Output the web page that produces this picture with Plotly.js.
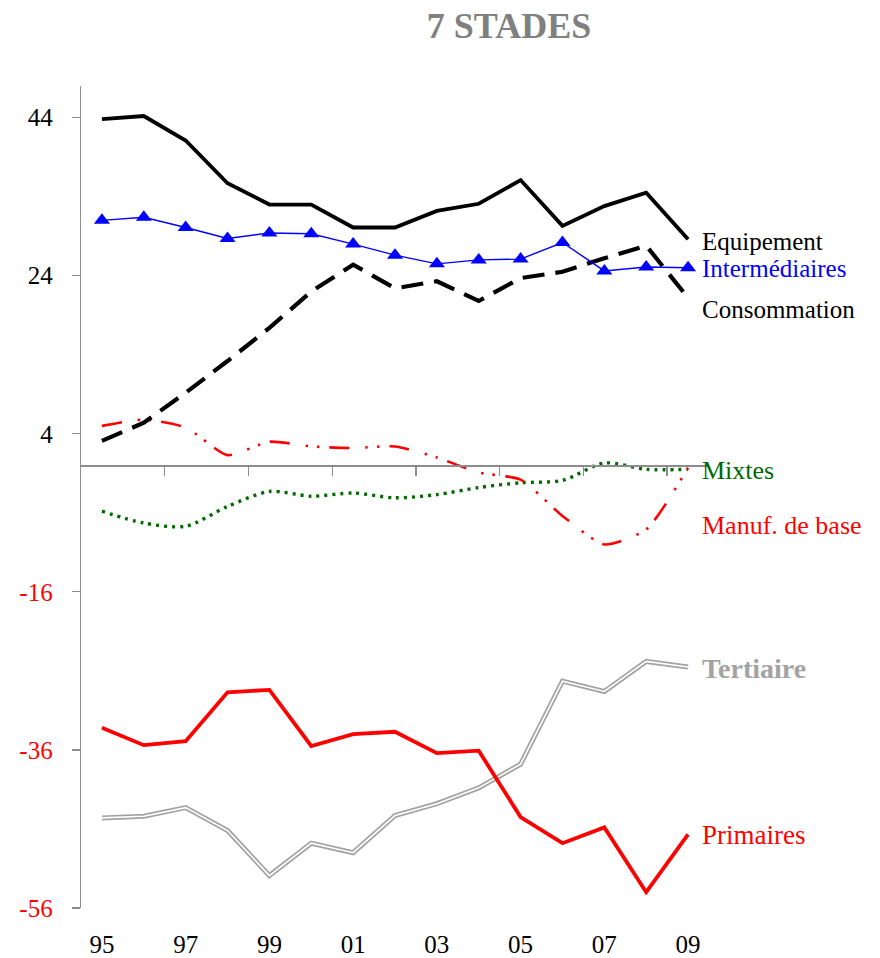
<!DOCTYPE html>
<html>
<head>
<meta charset="utf-8">
<script src="https://cdn.plot.ly/plotly-3.0.1.min.js"></script>
<style>html,body{margin:0;padding:0;background:#fff;}#chart{width:880px;height:958px;}</style>
</head>
<body>
<div id="chart"></div>
<script>
// ---- data ----
const years = [1995,1996,1997,1998,1999,2000,2001,2002,2003,2004,2005,2006,2007,2008,2009];
const yearLabelVals = [1995,1997,1999,2001,2003,2005,2007,2009];
const yearLabels = ['95','97','99','01','03','05','07','09'];
const minorTickVals = [1996.5,1998.5,2000.5,2002.5,2004.5,2006.5,2008.5];
const yTickVals = [44,24,4,-16,-36,-56];
const yTickText = ['44','24','4','-16','-36','-56'];

const equipement    = [43.8,44.2,41.1,35.7,33.0,33.0,30.1,30.1,32.2,33.1,36.1,30.3,32.8,34.5,28.6];
const intermediaires= [31.0,31.4,30.1,28.7,29.4,29.3,28.0,26.6,25.5,26.0,26.1,28.2,24.6,25.1,25.0];
const consommation  = [3.1,5.4,9.2,13.2,17.4,22.0,25.4,22.4,23.3,20.8,23.7,24.5,26.2,27.8,21.2];
const manufBase     = [5.0,5.8,4.8,1.3,3.0,2.4,2.2,2.4,1.0,-0.9,-1.8,-6.4,-10.0,-8.1,-0.3];
const mixtes        = [-5.8,-7.3,-7.7,-5.2,-3.3,-3.9,-3.5,-4.1,-3.7,-2.8,-2.2,-1.9,0.3,-0.5,-0.5];
const tertiaire     = [-44.6,-44.4,-43.3,-46.2,-51.9,-47.8,-49.0,-44.3,-42.8,-40.8,-37.8,-27.3,-28.6,-24.8,-25.5];
const primaires     = [-33.2,-35.4,-34.9,-28.7,-28.4,-35.5,-34.0,-33.7,-36.4,-36.1,-44.5,-47.8,-45.8,-54.0,-46.7];

// ---- styles ----
const SERIF = 'Liberation Serif, Times New Roman, serif';
const RED = '#ff0000', BLUE = '#0000ff', GREEN = '#006a00', GRAY = '#a3a3a3';
const yMin = -56, yMax = 48;

const traces = [
  {x: years, y: tertiaire, mode:'lines', line:{color:GRAY, width:5}, hoverinfo:'skip'},
  {x: years, y: tertiaire, mode:'lines', line:{color:'#ffffff', width:1.6}, hoverinfo:'skip'},
  {x: years, y: primaires, mode:'lines', line:{color:RED, width:3.8}},
  {x: years, y: mixtes, mode:'lines', line:{color:GREEN, width:3.4, dash:'3px,5px', shape:'spline', smoothing:0.8}},
  {x: years, y: manufBase, mode:'lines', line:{color:RED, width:2.6, dash:'20px,16px,2.5px,9px,2.5px,10px', shape:'spline', smoothing:0.6}},
  {x: years, y: consommation, mode:'lines', line:{color:'#000000', width:4.2, dash:'22px,11px'}},
  {x: years, y: intermediaires, mode:'lines+markers', line:{color:BLUE, width:1.4}, marker:{symbol:'triangle-up', size:14, color:BLUE}},
  {x: years, y: equipement, mode:'lines', line:{color:'#000000', width:3.8}}
];

const last = years.length - 1;
function lab(text, yv, color, size, yshift, bold) {
  return {x: years[last], y: yv[last], xref:'x', yref:'y', text: bold ? '<b>'+text+'</b>' : text,
    showarrow:false, xanchor:'left', yanchor:'middle', xshift:12, yshift:yshift,
    font:{family:SERIF, size:size, color:color}};
}

const layout = {
  width: 880, height: 958,
  margin: {l:81, r:171, t:86, b:50},
  paper_bgcolor:'#ffffff', plot_bgcolor:'#ffffff',
  showlegend:false,
  title: {text:'<b>7 STADES</b>', font:{family:SERIF, size:36, color:'#808080'},
          x: 509/880, xanchor:'center', xref:'container', y: 1 - 25/958, yanchor:'middle', yref:'container'},
  xaxis: {range:[1994.5, 2009.5], tickvals: yearLabelVals, ticktext: yearLabels,
          showline:false, showgrid:false, zeroline:false, ticks:'',
          tickfont:{family:SERIF, size:25, color:'#000'}, ticklabelstandoff:19},
  xaxis2: {overlaying:'x', anchor:'free', position:(0 - yMin)/(yMax - yMin), side:'bottom',
           range:[1994.5, 2009.5], tickvals: minorTickVals, showticklabels:false,
           ticks:'outside', ticklen:9, tickcolor:'#8c8c8c', tickwidth:1.3,
           showline:true, linecolor:'#8c8c8c', linewidth:1.3, showgrid:false, zeroline:false},
  yaxis: {range:[yMin, yMax], tickvals: yTickVals,
          ticktext: yTickText.map(t => Number(t) < 0 ? '<span style="color:#ff0000">'+t+'</span>' : t),
          showline:true, linecolor:'#8c8c8c', linewidth:1.3, ticks:'outside', ticklen:8,
          tickcolor:'#8c8c8c', tickwidth:1.3, showgrid:false, zeroline:false,
          tickfont:{family:SERIF, size:25, color:'#000'}, ticklabelstandoff:14},
  annotations: [
    lab('Equipement', equipement, '#000000', 25, -2),
    lab('Intermédiaires', intermediaires, BLUE, 25, -1),
    lab('Consommation', consommation, '#000000', 25, -12),
    lab('Mixtes', mixtes, GREEN, 26, -1),
    lab('Manuf. de base', manufBase, RED, 26, -58),
    lab('Tertiaire', tertiaire, GRAY, 28, -2, true),
    lab('Primaires', primaires, RED, 27, -1)
  ]
};

// invisible trace so xaxis2 is realised
traces.push({x:[years[0]], y:[0], xaxis:'x2', mode:'markers', marker:{opacity:0}, hoverinfo:'skip'});

Plotly.newPlot('chart', traces, layout, {displayModeBar:false, staticPlot:true});
</script>
</body>
</html>
